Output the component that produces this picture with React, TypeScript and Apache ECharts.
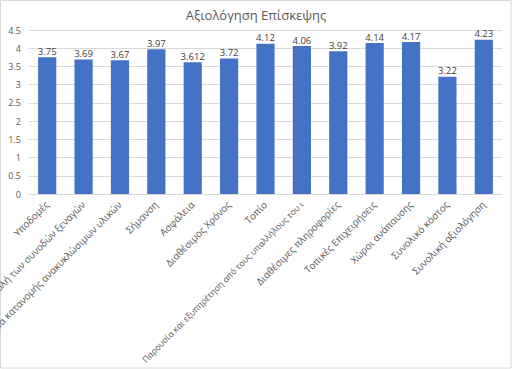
import React, { useEffect, useRef } from "react";
import * as echarts from "echarts";

const categories = [
  "Υποδομές",
  "Συμβολή των συνοδών ξεναγών",
  "Σύστημα κατανομής ανακυκλώσιμων υλικών",
  "Σήμανση",
  "Ασφάλεια",
  "Διαθέσιμος Χρόνος",
  "Τοπίο",
  "Παρουσία και εξυπηρέτηση από τους υπαλλήλους του ι",
  "Διαθέσιμες πληροφορίες",
  "Τοπικές Επιχειρήσεις",
  "Χώροι ανάπαυσης",
  "Συνολικό κόστος",
  "Συνολική αξιολόγηση",
];
const values = [3.75, 3.69, 3.67, 3.97, 3.612, 3.72, 4.12, 4.06, 3.92, 4.14, 4.17, 3.22, 4.23];
const title = "Αξιολόγηση Επίσκεψης";

export default function App() {
  const ref = useRef<HTMLDivElement>(null);
  useEffect(() => {
    const chart = echarts.init(ref.current!, null, { renderer: "svg" });
    const font = "'Open Sans', 'Noto Sans', sans-serif";
    const catData = categories.map((c) =>
      c.length > 45 ? { value: c, textStyle: { fontSize: 8.6 } } : c
    );
    chart.setOption({
      animation: false,
      textStyle: { fontFamily: font },
      title: {
        text: title,
        left: "center",
        top: 3,
        textStyle: { fontSize: 13, fontWeight: "normal", color: "#595959", fontFamily: font },
      },
      grid: {
        left: 29,
        right: 10,
        top: 30,
        bottom: 175,
        containLabel: false,
        outerBoundsMode: "none",
      },
      xAxis: {
        type: "category",
        data: catData,
        axisLine: { lineStyle: { color: "#d9d9d9" } },
        axisTick: { show: false },
        axisLabel: {
          rotate: 45,
          interval: 0,
          fontSize: 9.8,
          color: "#595959",
          margin: 9,
          fontFamily: font,
          hideOverlap: false,
        },
      },
      yAxis: {
        type: "value",
        min: 0,
        max: 4.5,
        interval: 0.5,
        axisLine: { show: false },
        axisTick: { show: false },
        splitLine: { lineStyle: { color: "#d9d9d9" } },
        axisLabel: { fontSize: 9, color: "#595959", margin: 8, fontFamily: font },
      },
      series: [
        {
          type: "bar",
          data: values,
          barWidth: "50%",
          itemStyle: { color: "#4472C4" },
          label: {
            show: true,
            position: "top",
            fontSize: 9.5,
            color: "#404040",
            distance: 1,
            fontFamily: font,
          },
        },
      ],
      graphic: [
        {
          type: "rect",
          shape: { x: 0.5, y: 0.5, width: 510.5, height: 367.5 },
          style: { fill: "none", stroke: "#d9d9d9", lineWidth: 1 },
          silent: true,
        },
      ],
    });
    return () => chart.dispose();
  }, []);
  return (
    <div
      ref={ref}
      style={{ position: "absolute", left: 0, top: 0, width: 512, height: 369, background: "#fff" }}
    />
  );
}
